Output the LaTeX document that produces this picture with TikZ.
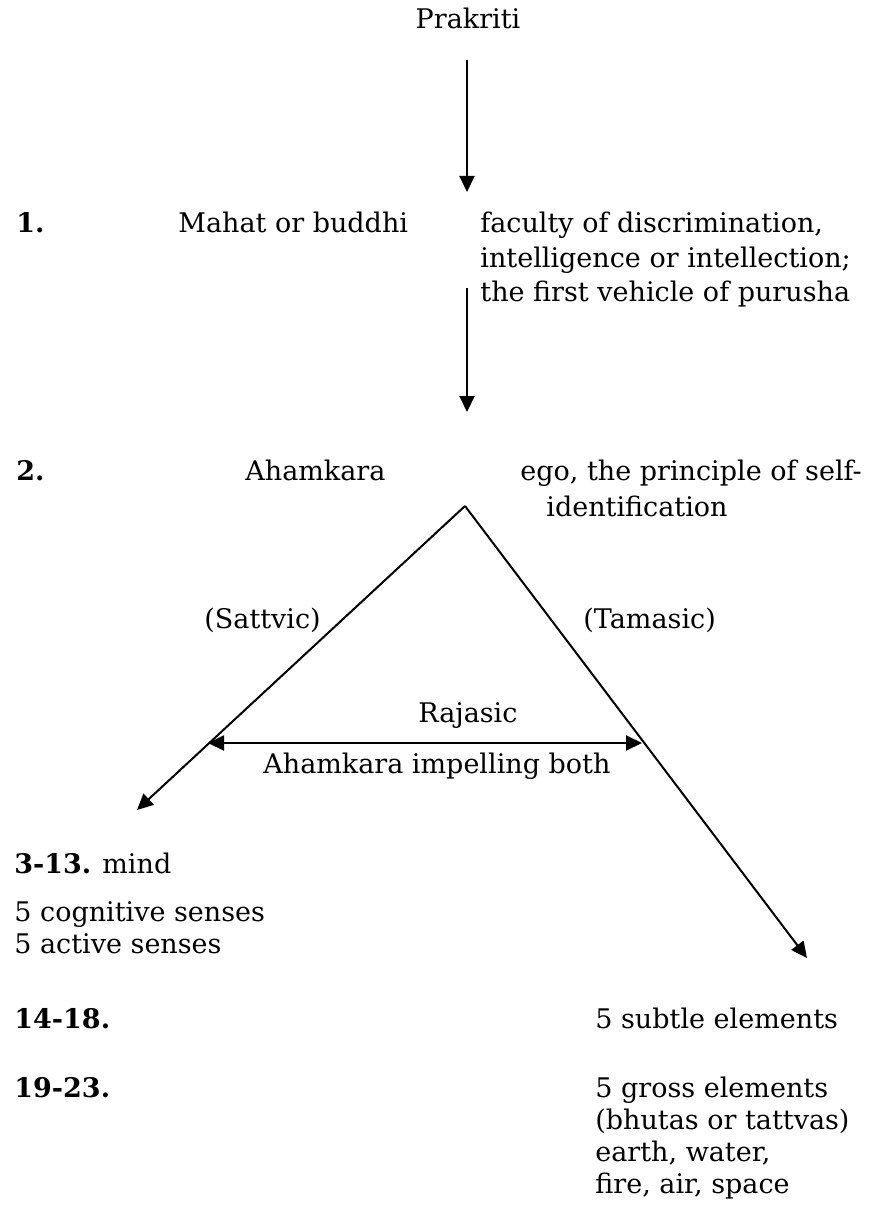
\documentclass[tikz,border=0pt]{standalone}
\usepackage{fontspec}
\setmainfont{DejaVu Serif}
\usetikzlibrary{arrows.meta}
\begin{document}
\begin{tikzpicture}[x=0.5pt,y=-0.5pt,
  txt/.style={anchor=base west,inner sep=0pt,font=\fontsize{13.5}{17}\selectfont},
  num/.style={txt,font=\fontsize{13.5}{17}\selectfont\bfseries},
  link/.style={line width=1pt,-{Triangle[length=8pt,width=7.5pt]}},
  twoway/.style={line width=1pt,{Triangle[length=8pt,width=7.5pt]}-{Triangle[length=8pt,width=7.5pt]}}]
\useasboundingbox (0,0) rectangle (874,1209);

% heading and the two first evolutes
\node[txt,anchor=base] (prakriti) at (468,29) {Prakriti};
\coordinate (a1s) at (467,60);
\coordinate (a1e) at (467,192);
\draw[link] (a1s) -- (a1e);

\node[num] (n1) at (16,233) {1.};
\node[txt] (mahat) at (178,233) {Mahat or buddhi};
\node[txt] (m1) at (480,233) {faculty of discrimination,};
\node[txt] (m2) at (480,267) {intelligence or intellection;};
\node[txt] (m3) at (480,301) {the first vehicle of purusha};

\coordinate (a2s) at (467,288);
\coordinate (a2e) at (467,412);
\draw[link] (a2s) -- (a2e);

\node[num] (n2) at (16,480) {2.};
\node[txt] (aham) at (245,480) {Ahamkara};
\node[txt] (e1) at (520,480) {ego, the principle of self-};
\node[txt] (e2) at (546,516) {identification};

% the three gunas of ahamkara
\coordinate (apex) at (465,506);
\coordinate (ltip) at (137,810);
\coordinate (rtip) at (807,958);
\draw[link] (apex) -- (ltip);
\draw[link] (apex) -- (rtip);

\node[txt] (sattvic) at (204,628) {(Sattvic)};
\node[txt] (tamasic) at (583,628) {(Tamasic)};
\node[txt] (rajasic) at (418,722) {Rajasic};
\coordinate (rl) at (208,743);
\coordinate (rr) at (642,743);
\draw[twoway] (rl) -- (rr);
\node[txt] (impel) at (263,773) {Ahamkara impelling both};

% the products
\node[num] (n3) at (14,873) {3-13.};
\node[txt] (mind) at (102,873) {mind};
\node[txt] (cog) at (14,921) {5 cognitive senses};
\node[txt] (act) at (14,953) {5 active senses};

\node[num] (n14) at (14,1028) {14-18.};
\node[txt] (subtle) at (595,1028) {5 subtle elements};

\node[num] (n19) at (14,1097) {19-23.};
\node[txt] (g1) at (595,1097) {5 gross elements};
\node[txt] (g2) at (595,1129) {(bhutas or tattvas)};
\node[txt] (g3) at (595,1161) {earth, water,};
\node[txt] (g4) at (595,1193) {fire, air, space};
\end{tikzpicture}
\end{document}
